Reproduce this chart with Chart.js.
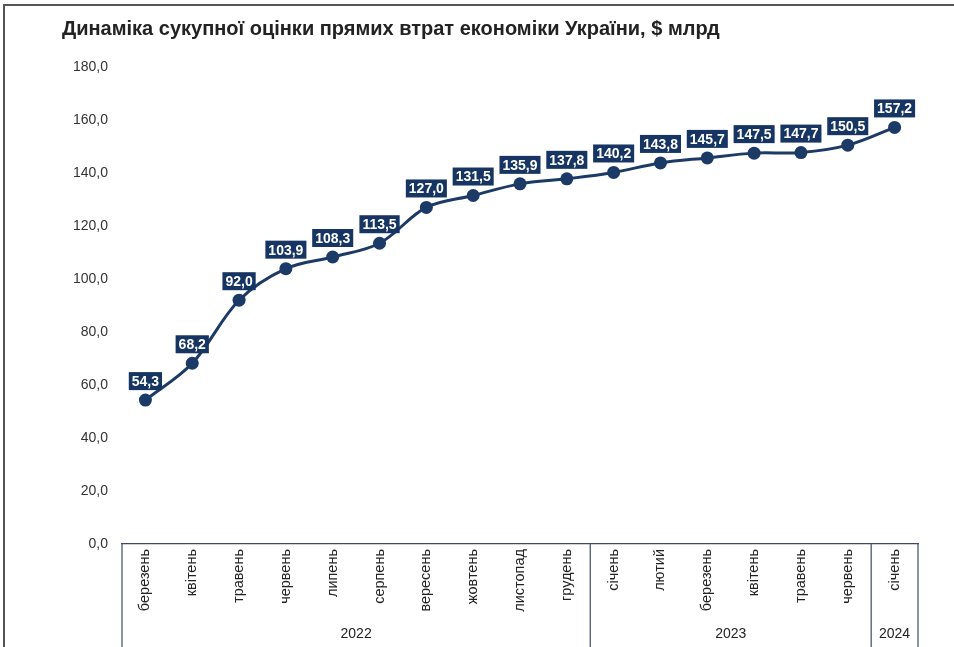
<!DOCTYPE html>
<html>
<head>
<meta charset="utf-8">
<script src="https://cdn.jsdelivr.net/npm/chart.js@4"></script>
<style>
  body { margin: 0; background: #fff; }
  #wrap { width: 954px; height: 647px; position: relative; }
</style>
</head>
<body>
<div id="wrap"><canvas id="myChart"></canvas></div>
<script>
var months = ['березень', 'квітень', 'травень', 'червень', 'липень', 'серпень', 'вересень', 'жовтень',
              'листопад', 'грудень', 'січень', 'лютий', 'березень', 'квітень', 'травень', 'червень', 'січень'];
var losses = [54.3, 68.2, 92.0, 103.9, 108.3, 113.5, 127.0, 131.5, 135.9, 137.8,
              140.2, 143.8, 145.7, 147.5, 147.7, 150.5, 157.2];
var years = ['2022', '2023', '2024'];
var yearSpans = [10, 6, 1];
var yTicks = [0, 20, 40, 60, 80, 100, 120, 140, 160, 180];

var title = 'Динаміка сукупної оцінки прямих втрат економіки України, $ млрд';
var navy = '#1c3a66';
var boxNavy = '#163562';

function fmt(v) {
    return v.toFixed(1).replace('.', ',');
}

// labels in boxes above points
var boxLabels = {
    id: 'boxLabels',
    afterDatasetsDraw: function (chart) {
        var ctx = chart.ctx;
        var meta = chart.getDatasetMeta(0);
        ctx.save();
        ctx.font = "bold 14px 'Liberation Sans', Arial, sans-serif";
        ctx.textAlign = 'center';
        ctx.textBaseline = 'middle';
        meta.data.forEach(function (pt, i) {
            var txt = fmt(losses[i]);
            var w = ctx.measureText(txt).width + 6;
            var h = 18;
            var x = pt.x - w / 2;
            var y = pt.y - 10 - h;
            ctx.fillStyle = boxNavy;
            ctx.fillRect(x, y, w, h);
            ctx.fillStyle = '#ffffff';
            ctx.fillText(txt, pt.x, y + h / 2 + 1);
        });
        ctx.restore();
    }
};

// title, frame and year groups under the axis
var decor = {
    id: 'decor',
    afterDraw: function (chart) {
        var ctx = chart.ctx;
        var xs = chart.scales.x;
        var area = chart.chartArea;
        var w = (area.right - area.left) / months.length;
        ctx.save();

        ctx.fillStyle = '#222';
        ctx.font = "bold 20px 'Liberation Sans', Arial, sans-serif";
        ctx.textAlign = 'left';
        ctx.textBaseline = 'alphabetic';
        ctx.fillText(title, 62, 35);

        ctx.strokeStyle = '#555';
        ctx.lineWidth = 2;
        ctx.beginPath();
        ctx.moveTo(4, 647);
        ctx.lineTo(4, 5);
        ctx.lineTo(954, 5);
        ctx.stroke();

        ctx.strokeStyle = '#3c4a66';
        ctx.lineWidth = 1.2;
        ctx.fillStyle = '#222';
        ctx.font = "14px 'Liberation Sans', Arial, sans-serif";
        ctx.textAlign = 'center';
        ctx.textBaseline = 'middle';
        var start = 0;
        var edge = function (i) { return xs.getPixelForValue(i) - w / 2; };
        ctx.beginPath();
        ctx.moveTo(edge(0), area.bottom);
        ctx.lineTo(edge(0), 647);
        ctx.stroke();
        years.forEach(function (yr, k) {
            var end = start + yearSpans[k];
            var x1 = edge(start);
            var x2 = edge(end);
            ctx.beginPath();
            ctx.moveTo(x2, area.bottom);
            ctx.lineTo(x2, 647);
            ctx.stroke();
            ctx.fillText(yr, (x1 + x2) / 2, 634);
            start = end;
        });
        ctx.restore();
    }
};

var ctx = document.getElementById('myChart').getContext('2d');
var myChart = new Chart(ctx, {
    type: 'line',
    data: {
        labels: months,
        datasets: [{
            data: losses,
            borderColor: navy,
            backgroundColor: navy,
            borderWidth: 3,
            tension: 0.35,
            pointRadius: 6.5,
            pointBackgroundColor: navy,
            pointBorderColor: navy,
            pointBorderWidth: 0
        }]
    },
    options: {
        responsive: true,
        maintainAspectRatio: false,
        animation: false,
        layout: { padding: { top: 67, right: 36, left: 0, bottom: 0 } },
        plugins: {
            legend: { display: false },
            tooltip: { enabled: false }
        },
        scales: {
            x: {
                offset: true,
                grid: { display: false, drawTicks: false },
                border: { display: true, color: '#3c4a66', width: 1.2 },
                ticks: {
                    autoSkip: false,
                    minRotation: 90,
                    maxRotation: 90,
                    padding: 5,
                    color: '#222',
                    font: { family: "'Liberation Sans', Arial, sans-serif", size: 14.5 }
                },
                afterFit: function (s) { s.height = 103; }
            },
            y: {
                min: 0,
                max: 180,
                afterBuildTicks: function (s) {
                    s.ticks = yTicks.map(function (v) { return { value: v }; });
                },
                grid: { display: false, drawTicks: false },
                border: { display: false },
                ticks: {
                    padding: 14,
                    color: '#333',
                    font: { family: "'Liberation Sans', Arial, sans-serif", size: 14 },
                    callback: function (v) { return fmt(v); }
                },
                afterFit: function (s) { s.width = 122; }
            }
        }
    },
    plugins: [boxLabels, decor]
});
</script>
</body>
</html>
